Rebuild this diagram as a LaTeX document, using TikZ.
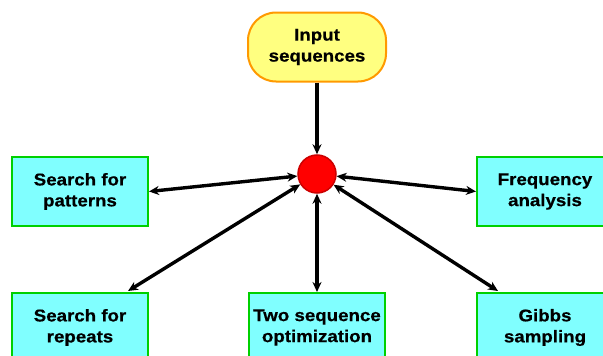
\documentclass[tikz,border=0pt]{standalone}
\usepackage{fontspec}
\newfontfamily\labfont[FakeStretch=1.1,BoldFeatures={FakeBold=0.6}]{Liberation Sans}
\usetikzlibrary{arrows.meta}
\definecolor{boxfill}{HTML}{80FFFF}
\definecolor{boxline}{HTML}{00D000}
\definecolor{infill}{HTML}{FFFF80}
\definecolor{inline}{HTML}{FF9900}
\definecolor{hubfill}{HTML}{FF0000}
\definecolor{hubline}{HTML}{CC0000}
\tikzset{
  lab/.style={font=\labfont\bfseries\fontsize{17}{21}\selectfont, align=center, text=black},
  taskbox/.style={lab, draw=boxline, fill=boxfill, line width=2pt, minimum width=136pt, minimum height=69pt, inner sep=0pt},
  inbox/.style={lab, draw=inline, fill=infill, line width=2pt, rounded corners=28pt, minimum width=138pt, minimum height=69pt, inner sep=0pt},
  hub/.style={circle, draw=hubline, fill=hubfill, line width=1.5pt, minimum size=38pt, inner sep=0pt},
  conn/.style={line width=3.4pt, draw=black, {Stealth[length=10pt,width=9pt]}-{Stealth[length=10pt,width=9pt]}},
  oneway/.style={line width=3.4pt, draw=black, -{Stealth[length=10pt,width=9pt]}}
}
\begin{document}
\begin{tikzpicture}[x=1pt,y=-1pt]
\useasboundingbox (0,0) rectangle (603,356);
\clip (0,0) rectangle (603,356);
\node[inbox] (in) at (317,47) {Input\\sequences};
\node[hub] (c) at (317,174) {};
\node[taskbox] (sp) at (80,191.5) {Search for\\patterns};
\node[taskbox] (fa) at (545,191.5) {Frequency\\analysis};
\node[taskbox] (sr) at (80,327.5) {Search for\\repeats};
\node[taskbox] (ts) at (317,327.5) {Two sequence\\optimization};
\node[taskbox] (gs) at (545,327.5) {Gibbs\\sampling};
\coordinate (srt) at ([xshift=-21pt,yshift=1pt]sr.north east);
\coordinate (gst) at ([xshift=22pt,yshift=1pt]gs.north west);
\draw[oneway] (in) -- (c);
\draw[conn] (c) -- (sp.east);
\draw[conn] (c) -- (fa.west);
\draw[conn] (c) -- (srt);
\draw[conn] (c) -- (ts.north);
\draw[conn] (c) -- (gst);
\end{tikzpicture}
\end{document}
